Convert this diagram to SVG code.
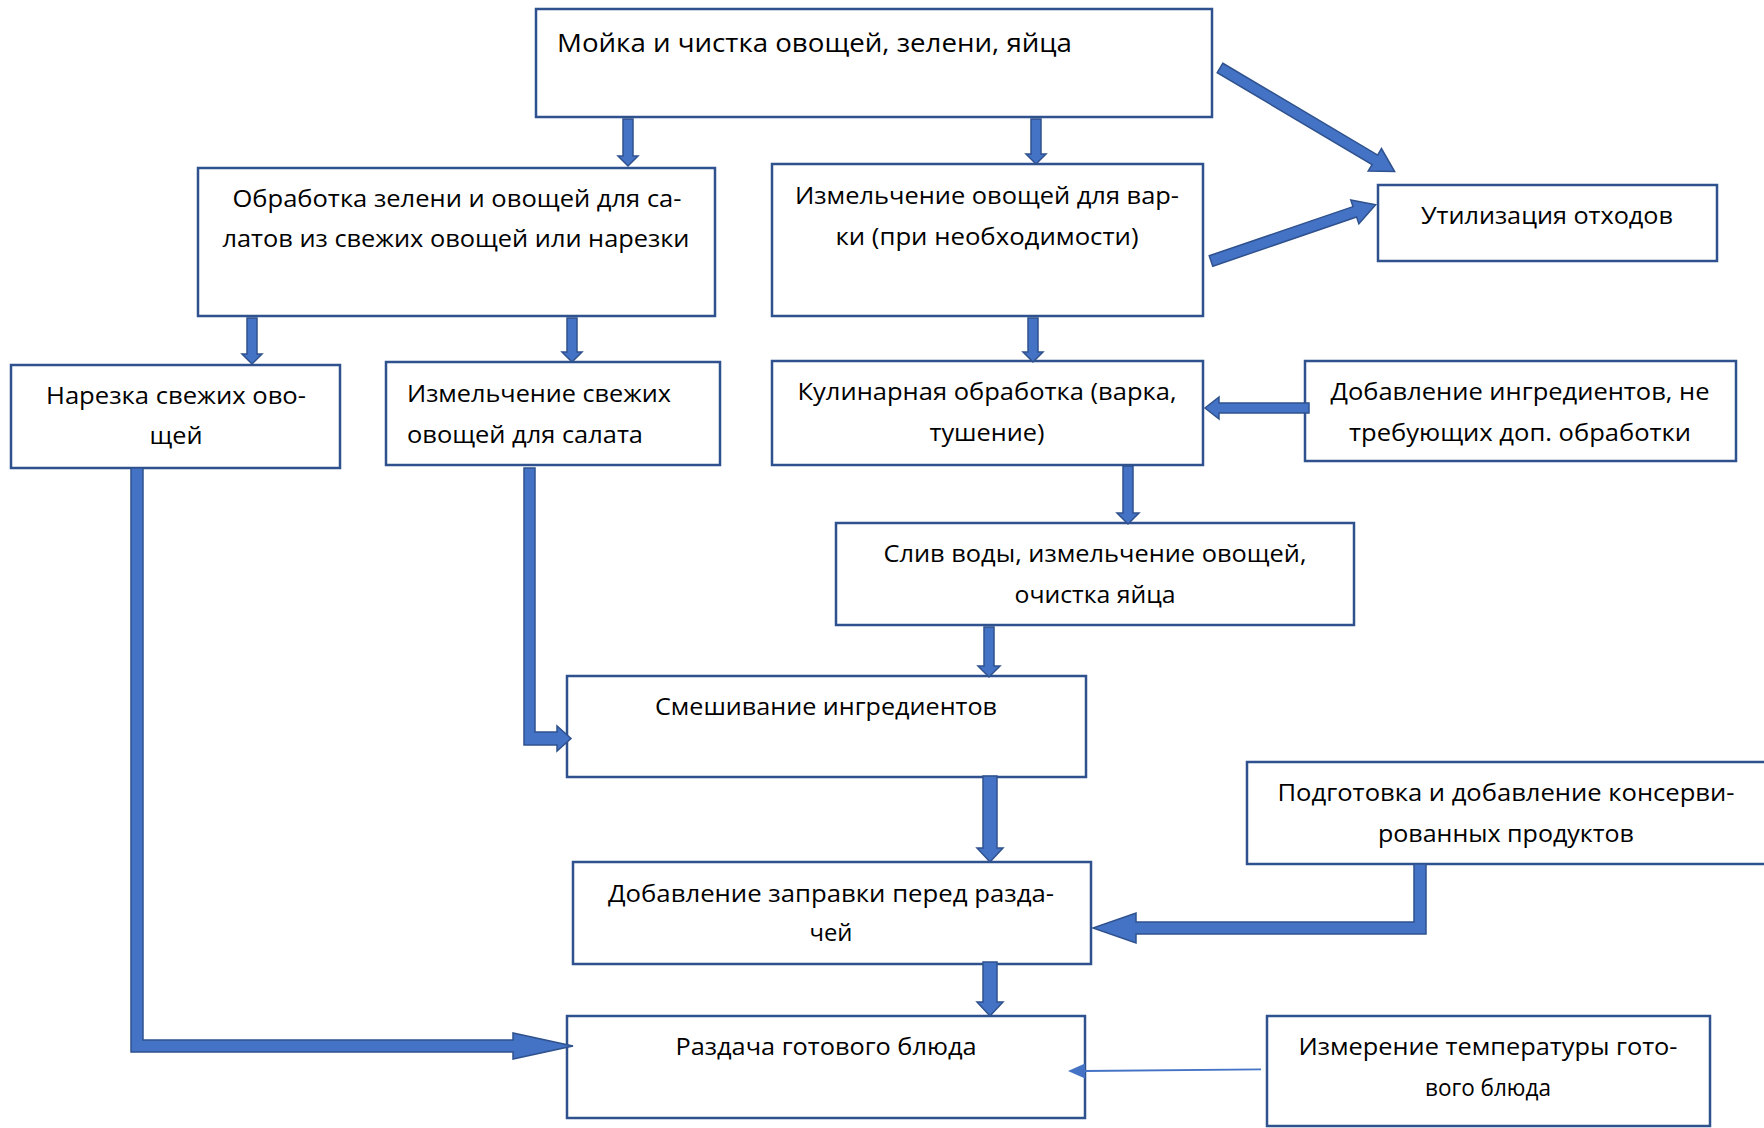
<svg xmlns="http://www.w3.org/2000/svg" width="1764" height="1128" viewBox="0 0 1764 1128">
<style>
.box{fill:#fff;stroke:#2F528F;stroke-width:2.5}
.t{font-family:"Open Sans","Noto Sans","DejaVu Sans",sans-serif;font-size:23px;fill:#000}
.c{text-anchor:middle}
.arr{fill:#4472C4;stroke:#2F528F;stroke-width:1.5;stroke-linejoin:miter}
.thin{stroke:#4472C4;stroke-width:1.8;fill:none}
</style>
<rect width="1764" height="1128" fill="#fff"/>

<g id="n-moika">
  <rect class="box" x="536" y="9" width="676" height="108"/>
  <text class="t" x="557" y="52" style="font-size:26px" textLength="515" lengthAdjust="spacingAndGlyphs">Мойка и чистка овощей, зелени, яйца</text>
</g>
<g id="n-obrabotka">
  <rect class="box" x="198" y="168" width="517" height="148"/>
  <text class="t c" x="457" y="207" textLength="449" lengthAdjust="spacingAndGlyphs">Обработка зелени и овощей для са-</text>
  <text class="t c" x="456" y="247" textLength="467" lengthAdjust="spacingAndGlyphs">латов из свежих овощей или нарезки</text>
</g>
<g id="n-izm-varki">
  <rect class="box" x="772" y="164" width="431" height="152"/>
  <text class="t c" x="987" y="204" textLength="384" lengthAdjust="spacingAndGlyphs">Измельчение овощей для вар-</text>
  <text class="t c" x="987" y="245" textLength="303" lengthAdjust="spacingAndGlyphs">ки (при необходимости)</text>
</g>
<g id="n-utilizaciya">
  <rect class="box" x="1378" y="185" width="339" height="76"/>
  <text class="t c" x="1547" y="224" textLength="252" lengthAdjust="spacingAndGlyphs">Утилизация отходов</text>
</g>
<g id="n-narezka">
  <rect class="box" x="11" y="365" width="329" height="103"/>
  <text class="t c" x="176" y="404" textLength="260" lengthAdjust="spacingAndGlyphs">Нарезка свежих ово-</text>
  <text class="t c" x="176" y="444" textLength="53" lengthAdjust="spacingAndGlyphs">щей</text>
</g>
<g id="n-izm-svezhih">
  <rect class="box" x="386" y="362" width="334" height="103"/>
  <text class="t" x="407" y="402" textLength="264" lengthAdjust="spacingAndGlyphs">Измельчение свежих</text>
  <text class="t" x="407" y="443" textLength="236" lengthAdjust="spacingAndGlyphs">овощей для салата</text>
</g>
<g id="n-kulinarnaya">
  <rect class="box" x="772" y="361" width="431" height="104"/>
  <text class="t c" x="987" y="400" textLength="379" lengthAdjust="spacingAndGlyphs">Кулинарная обработка (варка,</text>
  <text class="t c" x="987" y="441" textLength="115" lengthAdjust="spacingAndGlyphs">тушение)</text>
</g>
<g id="n-dobavlenie-ingr">
  <rect class="box" x="1305" y="361" width="431" height="100"/>
  <text class="t c" x="1520" y="400" textLength="379" lengthAdjust="spacingAndGlyphs">Добавление ингредиентов, не</text>
  <text class="t c" x="1520" y="441" textLength="342" lengthAdjust="spacingAndGlyphs">требующих доп. обработки</text>
</g>
<g id="n-sliv">
  <rect class="box" x="836" y="523" width="518" height="102"/>
  <text class="t c" x="1095" y="562" textLength="423" lengthAdjust="spacingAndGlyphs">Слив воды, измельчение овощей,</text>
  <text class="t c" x="1095" y="603" textLength="161" lengthAdjust="spacingAndGlyphs">очистка яйца</text>
</g>
<g id="n-smeshivanie">
  <rect class="box" x="567" y="676" width="519" height="101"/>
  <text class="t c" x="826" y="715" textLength="342" lengthAdjust="spacingAndGlyphs">Смешивание ингредиентов</text>
</g>
<g id="n-podgotovka">
  <rect class="box" x="1247" y="762" width="540" height="102"/>
  <text class="t c" x="1506" y="801" textLength="457" lengthAdjust="spacingAndGlyphs">Подготовка и добавление консерви-</text>
  <text class="t c" x="1506" y="842" textLength="256" lengthAdjust="spacingAndGlyphs">рованных продуктов</text>
</g>
<g id="n-zapravka">
  <rect class="box" x="573" y="862" width="518" height="102"/>
  <text class="t c" x="831" y="902" textLength="446" lengthAdjust="spacingAndGlyphs">Добавление заправки перед разда-</text>
  <text class="t c" x="831" y="941" textLength="43" lengthAdjust="spacingAndGlyphs">чей</text>
</g>
<g id="n-razdacha">
  <rect class="box" x="567" y="1016" width="518" height="102"/>
  <text class="t c" x="826" y="1055" textLength="301" lengthAdjust="spacingAndGlyphs">Раздача готового блюда</text>
</g>
<g id="n-izmerenie">
  <rect class="box" x="1267" y="1016" width="443" height="110"/>
  <text class="t c" x="1488" y="1055" textLength="379" lengthAdjust="spacingAndGlyphs">Измерение температуры гото-</text>
  <text class="t c" x="1488" y="1096" textLength="126" lengthAdjust="spacingAndGlyphs">вого блюда</text>
</g>

<g id="connectors">
  <polygon class="arr" points="623,119 633,119 633,156 638,156 628,166 618,156 623,156"/>
  <polygon class="arr" points="1031,119 1041,119 1041,154 1046,154 1036,164 1026,154 1031,154"/>
  <g transform="translate(1220,68) rotate(30.66)">
    <polygon class="arr" points="0,-5.5 180,-5.5 180,-13 203,0 180,13 180,5.5 0,5.5"/>
  </g>
  <g transform="translate(1211,261) rotate(-18.87)">
    <polygon class="arr" points="0,-5.5 152,-5.5 152,-12.5 174,0 152,12.5 152,5.5 0,5.5"/>
  </g>
  <polygon class="arr" points="247,318 257,318 257,354 262,354 252,364 242,354 247,354"/>
  <polygon class="arr" points="567,318 577,318 577,352 582,352 572,362 562,352 567,352"/>
  <polygon class="arr" points="1028,318 1038,318 1038,352 1043,352 1033,362 1023,352 1028,352"/>
  <polygon class="arr" points="1309,403 1309,413 1219,413 1219,419 1205,408 1219,397 1219,403"/>
  <polygon class="arr" points="1123,466 1133,466 1133,513 1139,513 1128,524 1117,513 1123,513"/>
  <polygon class="arr" points="984,627 994,627 994,666 1000,666 989,677 978,666 984,666"/>
  <polygon class="arr" points="524,468 535,468 535,732 557,732 557,726 571,738.5 557,751 557,745 524,745"/>
  <polygon class="arr" points="983,776 997,776 997,848 1003,848 990,862 977,848 983,848"/>
  <polygon class="arr" points="1426,864 1426,934 1136,934 1136,943 1093,928 1136,913 1136,922 1414,922 1414,864"/>
  <polygon class="arr" points="983,962 997,962 997,1002 1003,1002 990,1016 977,1002 983,1002"/>
  <polygon class="arr" points="131,468 143,468 143,1040 513,1040 513,1033 573,1046 513,1059 513,1052 131,1052"/>
  <line class="thin" x1="1261" y1="1069.3" x2="1084" y2="1071"/>
  <polygon fill="#4472C4" points="1068,1071 1085,1063.5 1085,1078.5"/>
</g>
</svg>
